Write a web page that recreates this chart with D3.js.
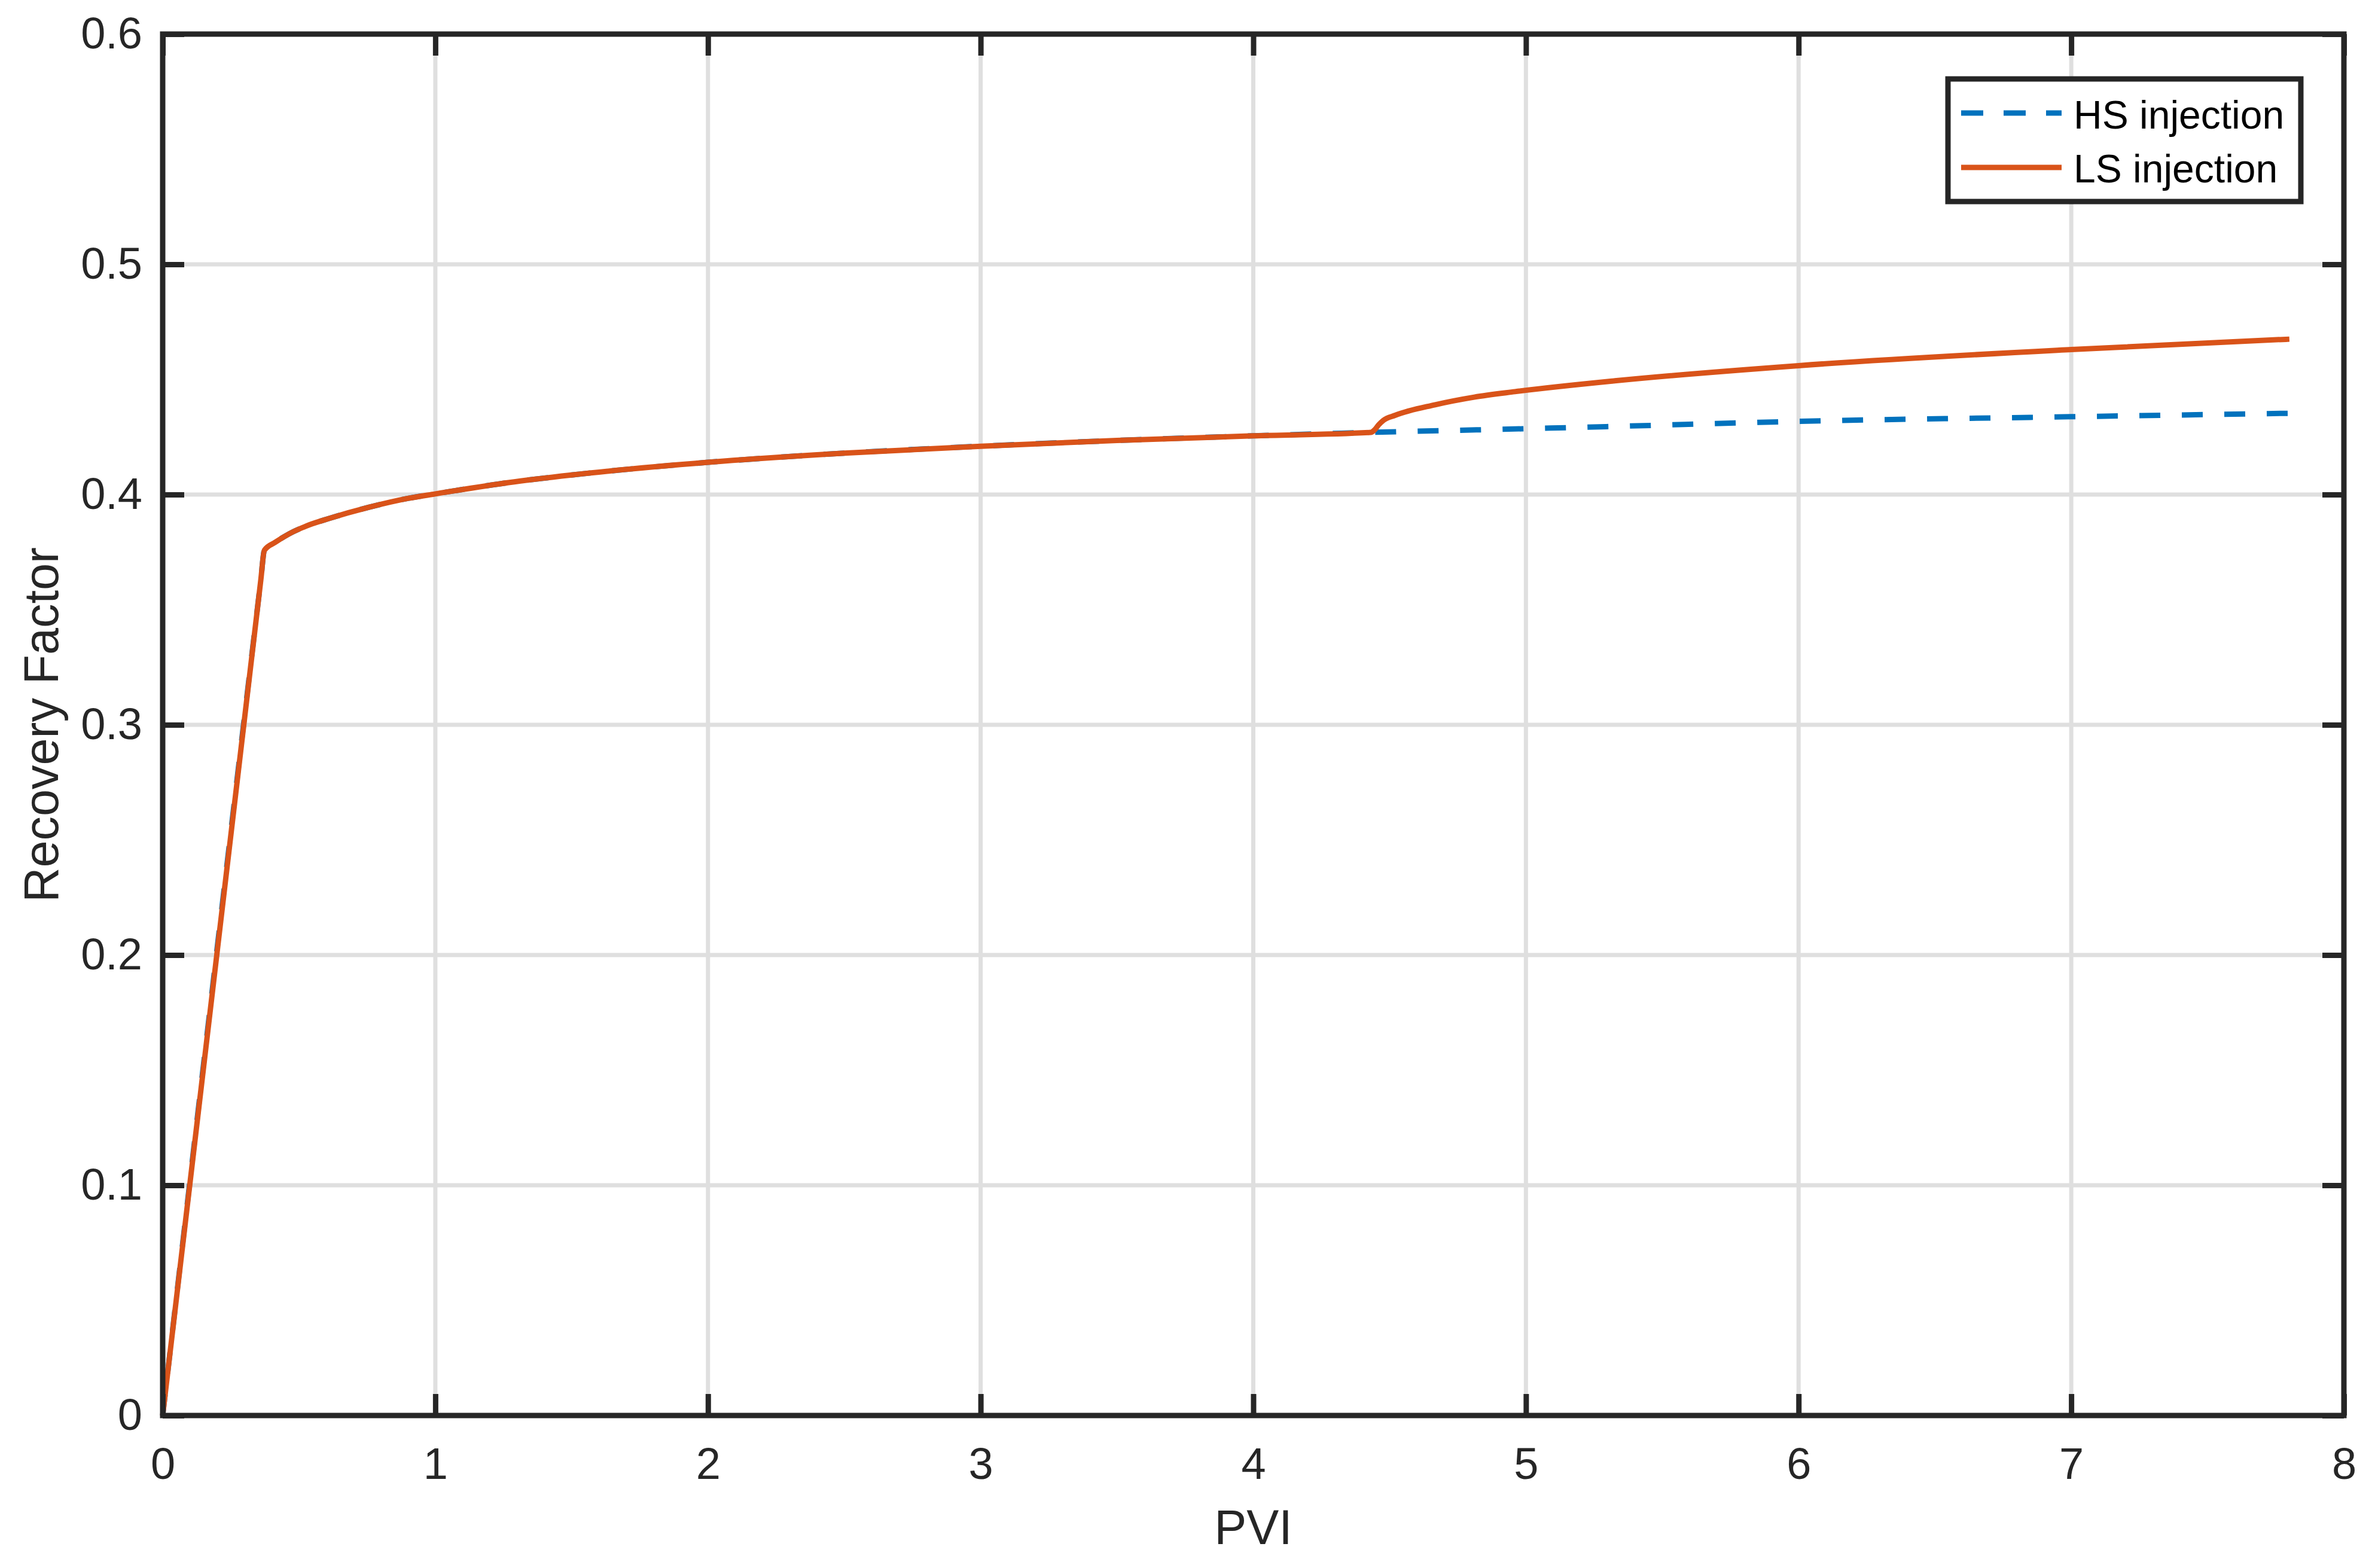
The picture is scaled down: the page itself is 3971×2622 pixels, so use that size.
<!DOCTYPE html>
<html>
<head>
<meta charset="utf-8">
<script src="https://cdn.jsdelivr.net/npm/d3@7"></script>
<style>
  body { margin: 0; background: #fff; }
  svg { display: block; font-family: "Liberation Sans", Arial, Helvetica, sans-serif; }
</style>
</head>
<body>
<svg id="chart"></svg>
<script>
// recovery factor vs pore volumes injected
const hsPVI = [0, 0.36, 0.373, 0.412, 0.463, 0.537, 0.61, 0.757, 0.902, 1.0, 1.268, 1.5, 2, 2.5, 3, 3.5, 4, 4.431, 5, 5.326, 6, 7, 7.8];
const hsRF  = [0, 0.363, 0.3758, 0.3792, 0.3829, 0.3868, 0.3896, 0.3945, 0.3984, 0.4003, 0.4052, 0.4085, 0.414, 0.418, 0.421, 0.4235, 0.4255, 0.4270, 0.4286, 0.4296, 0.4318, 0.4338, 0.4353];

const lsPVI = [0, 0.36, 0.373, 0.412, 0.463, 0.537, 0.61, 0.757, 0.902, 1.0, 1.268, 1.5, 2, 2.5, 3, 3.5, 4, 4.431, 4.445, 4.46, 4.477, 4.52, 4.667, 4.81, 4.96, 5.326, 6, 7, 7.8];
const lsRF  = [0, 0.363, 0.3758, 0.3792, 0.3829, 0.3868, 0.3896, 0.3945, 0.3984, 0.4003, 0.4052, 0.4085, 0.414, 0.418, 0.421, 0.4235, 0.4255, 0.4270, 0.4281, 0.4303, 0.4322, 0.4344, 0.4390, 0.4423, 0.4447, 0.4494, 0.4560, 0.4630, 0.4675];

const xTicks = [0, 1, 2, 3, 4, 5, 6, 7, 8];
const yTicks = [0, 0.1, 0.2, 0.3, 0.4, 0.5, 0.6];
const yTickLabels = ["0", "0.1", "0.2", "0.3", "0.4", "0.5", "0.6"];
const seriesNames = ["HS injection", "LS injection"];

window.addEventListener('load', () => {
    const W = 3971, H = 2622;
    const left = 272, right = 3919, top = 57, bottom = 2367;
    const axisCol = '#262626';
    const tickLen = 36;

    let svg = d3.select('#chart').attr('width', W).attr('height', H);

    let x = d3.scaleLinear().domain([0, 8]).range([left, right]);
    let y = d3.scaleLinear().domain([0, 0.6]).range([bottom, top]);

    // grid
    let grid = svg.append('g').attr('stroke', '#dfdfdf').attr('stroke-width', 7);
    grid.selectAll('line.gx').data(xTicks.slice(1, -1)).enter().append('line')
        .attr('x1', d => x(d)).attr('x2', d => x(d)).attr('y1', top).attr('y2', bottom);
    grid.selectAll('line.gy').data(yTicks.slice(1, -1)).enter().append('line')
        .attr('y1', d => y(d)).attr('y2', d => y(d)).attr('x1', left).attr('x2', right);

    // series - HS first, LS drawn on top
    let line = d3.line().x(d => x(d[0])).y(d => y(d[1])).curve(d3.curveMonotoneX);
    svg.append('path')
       .datum(d3.zip(hsPVI, hsRF))
       .attr('d', line)
       .attr('fill', 'none')
       .attr('stroke', '#0072BD')
       .attr('stroke-width', 9)
       .attr('stroke-dasharray', '35,36');
    svg.append('path')
       .datum(d3.zip(lsPVI, lsRF))
       .attr('d', line)
       .attr('fill', 'none')
       .attr('stroke', '#D95319')
       .attr('stroke-width', 9)
       .attr('stroke-linejoin', 'round');

    // axes (ticks inward on all four sides)
    let styleAxis = (g) => {
        g.select('.domain').remove();
        g.selectAll('.tick line').attr('stroke', axisCol).attr('stroke-width', 9);
        g.selectAll('.tick text').attr('fill', axisCol).style('font-size', '74px');
    };
    svg.append('g').attr('transform', `translate(0,${bottom})`)
       .call(d3.axisBottom(x).tickValues(xTicks).tickSize(-tickLen).tickPadding(53).tickFormat(d3.format('d')))
       .call(styleAxis);
    svg.append('g').attr('transform', `translate(0,${top})`)
       .call(d3.axisTop(x).tickValues(xTicks).tickSize(-tickLen).tickFormat(''))
       .call(styleAxis);
    svg.append('g').attr('transform', `translate(${left},0)`)
       .call(d3.axisLeft(y).tickValues(yTicks).tickSize(-tickLen).tickPadding(34).tickFormat((d, i) => yTickLabels[i]))
       .call(styleAxis);
    svg.append('g').attr('transform', `translate(${right},0)`)
       .call(d3.axisRight(y).tickValues(yTicks).tickSize(-tickLen).tickFormat(''))
       .call(styleAxis);

    // box
    svg.append('rect')
       .attr('x', left).attr('y', top)
       .attr('width', right - left).attr('height', bottom - top)
       .attr('fill', 'none').attr('stroke', axisCol).attr('stroke-width', 9);

    // axis labels
    svg.append('text')
       .attr('x', (left + right) / 2).attr('y', 2582)
       .attr('text-anchor', 'middle')
       .attr('fill', axisCol)
       .style('font-size', '81px')
       .text('PVI');
    svg.append('text')
       .attr('transform', `translate(97,${(top + bottom) / 2}) rotate(-90)`)
       .attr('text-anchor', 'middle')
       .attr('fill', axisCol)
       .style('font-size', '81px')
       .text('Recovery Factor');

    // legend
    let lg = svg.append('g');
    lg.append('rect')
      .attr('x', 3257).attr('y', 132).attr('width', 590).attr('height', 205)
      .attr('fill', '#fff').attr('stroke', axisCol).attr('stroke-width', 9);
    let legendRows = [
        { name: seriesNames[0], color: '#0072BD', dash: '37,34', ly: 189, ty: 215 },
        { name: seriesNames[1], color: '#D95319', dash: null, ly: 280, ty: 305 }
    ];
    legendRows.forEach(r => {
        lg.append('line')
          .attr('x1', 3279).attr('x2', 3447).attr('y1', r.ly).attr('y2', r.ly)
          .attr('stroke', r.color).attr('stroke-width', 9)
          .attr('stroke-dasharray', r.dash);
        lg.append('text')
          .attr('x', 3467).attr('y', r.ty)
          .attr('fill', '#000')
          .style('font-size', '66px')
          .text(r.name);
    });
});
</script>
</body>
</html>
